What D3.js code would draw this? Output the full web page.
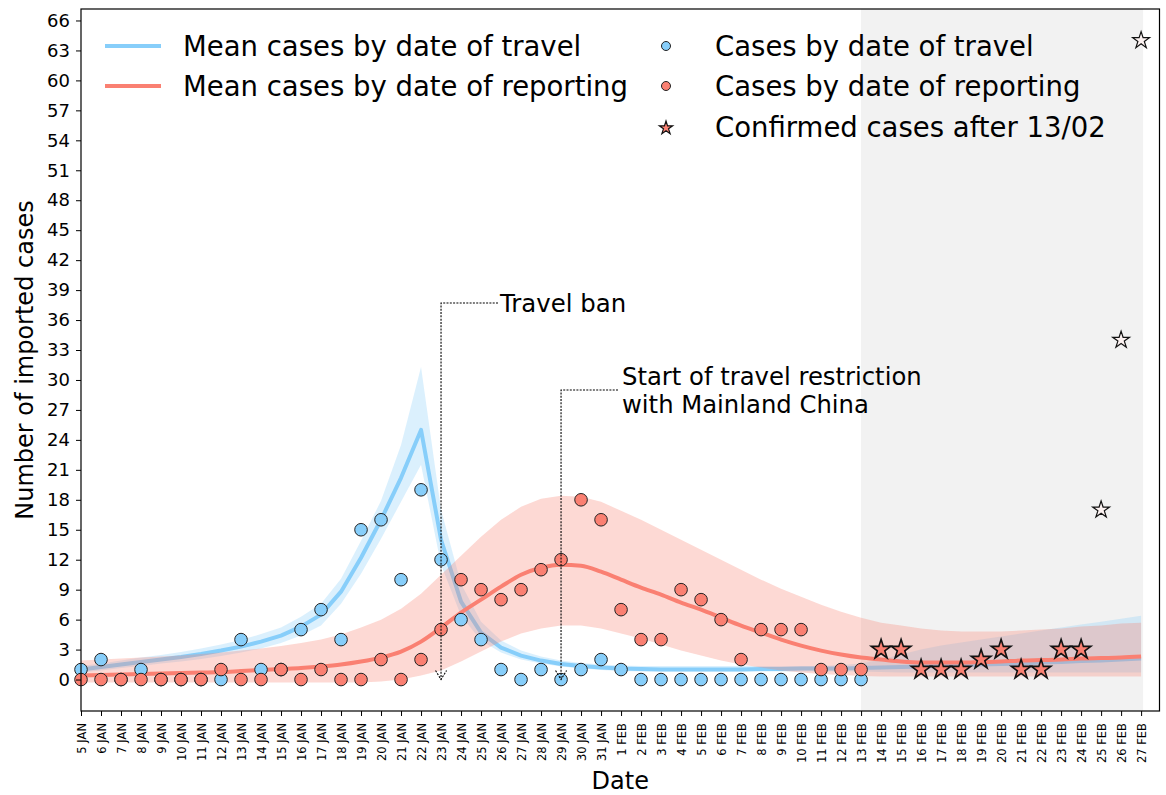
<!DOCTYPE html>
<html><head><meta charset="utf-8">
<script src="https://cdn.jsdelivr.net/npm/d3@7"></script>
<style>
body{margin:0;background:#fff;}
svg{display:block;font-family:"DejaVu Sans",sans-serif;}
</style>
</head><body>
<svg id="chart" width="1166" height="795"></svg>
<script>
// ---------- data ----------
const dayLabels = ["5 JAN","6 JAN","7 JAN","8 JAN","9 JAN","10 JAN","11 JAN","12 JAN","13 JAN","14 JAN",
  "15 JAN","16 JAN","17 JAN","18 JAN","19 JAN","20 JAN","21 JAN","22 JAN","23 JAN","24 JAN",
  "25 JAN","26 JAN","27 JAN","28 JAN","29 JAN","30 JAN","31 JAN",
  "1 FEB","2 FEB","3 FEB","4 FEB","5 FEB","6 FEB","7 FEB","8 FEB","9 FEB","10 FEB",
  "11 FEB","12 FEB","13 FEB","14 FEB","15 FEB","16 FEB","17 FEB","18 FEB","19 FEB","20 FEB",
  "21 FEB","22 FEB","23 FEB","24 FEB","25 FEB","26 FEB","27 FEB"];
const yTicks = [0,3,6,9,12,15,18,21,24,27,30,33,36,39,42,45,48,51,54,57,60,63,66];

// observed cases, 5 JAN .. 13 FEB
const travelCases = [1,2,0,1,0,0,0,0,4,1,1,5,7,4,15,16,10,19,12,6,4,1,0,1,0,1,2,1,0,0,0,0,0,0,0,0,0,0,0,0];
const reportCases = [0,0,0,0,0,0,0,1,0,0,1,0,1,0,0,2,0,2,5,10,9,8,9,11,12,18,16,7,4,4,9,8,6,2,5,5,5,1,1,1];
// confirmed cases after 13/02
const confirmedCases = [3,3,1,1,1,2,3,1,1,3,3];   // 14 FEB .. 24 FEB
const lateConfirmedCases = [17,34,64];            // 25 FEB .. 27 FEB

// model means and intervals, 5 JAN .. 27 FEB
const travelMean = [1.0,1.25,1.5,1.75,2.0,2.25,2.55,2.9,3.3,3.8,4.4,5.3,6.5,8.8,12.2,16.0,20.2,25.0,
  14.0,7.8,4.7,3.2,2.4,1.9,1.55,1.35,1.2,1.1,1.05,1.0,1.0,1.0,1.0,1.0,1.05,1.05,1.1,1.1,1.1,1.15,
  1.2,1.25,1.3,1.35,1.4,1.5,1.55,1.6,1.7,1.75,1.85,1.9,2.0,2.1];
const travelLow = [0.7,0.9,1.15,1.35,1.6,1.8,2.05,2.35,2.7,3.1,3.65,4.4,5.4,7.6,10.6,14.1,17.8,21.5,
  11.5,6.4,3.9,2.7,2.0,1.6,1.3,1.1,0.95,0.85,0.8,0.8,0.8,0.8,0.8,0.8,0.8,0.8,0.8,0.8,0.8,0.8,
  0.75,0.7,0.7,0.7,0.7,0.7,0.7,0.7,0.7,0.7,0.7,0.7,0.7,0.7];
const travelHigh = [1.35,1.6,1.9,2.2,2.45,2.75,3.1,3.5,3.95,4.55,5.2,6.3,7.6,10.1,13.9,17.9,23.5,31.3,
  17.0,9.6,5.8,3.9,2.9,2.3,1.9,1.65,1.5,1.4,1.35,1.35,1.35,1.35,1.35,1.35,1.35,1.35,1.35,1.35,1.45,1.6,
  2.0,2.5,3.0,3.4,3.7,4.0,4.3,4.6,4.9,5.2,5.5,5.8,6.1,6.4];
const reportMean = [0.4,0.45,0.5,0.55,0.6,0.65,0.7,0.75,0.85,0.95,1.05,1.15,1.3,
  1.5,1.8,2.2,2.8,3.8,5.2,6.7,8.0,9.3,10.5,11.2,11.5,11.4,
  10.8,10.0,9.2,8.5,7.7,7.0,6.2,5.4,4.7,4.0,3.4,2.9,2.5,2.2,
  2.0,1.8,1.7,1.7,1.7,1.75,1.8,1.9,1.95,2.0,2.1,2.15,2.2,2.3];
const reportLow = [-0.3,-0.3,-0.3,-0.3,-0.3,-0.3,-0.3,-0.3,-0.3,-0.3,-0.3,-0.3,-0.3,-0.3,-0.3,
  -0.2,0.0,0.4,0.9,1.8,2.8,3.8,4.6,5.1,5.4,5.4,5.1,4.6,4.1,3.5,2.9,2.4,1.9,1.5,1.2,0.9,0.7,0.55,0.45,0.35,
  0.3,0.3,0.3,0.3,0.3,0.3,0.3,0.3,0.3,0.3,0.3,0.3,0.3,0.3];
const reportHigh = [1.9,2.0,2.1,2.2,2.3,2.4,2.55,2.7,2.9,3.1,3.35,3.65,4.0,4.5,5.2,6.0,7.1,8.6,
  10.5,12.4,14.3,16.0,17.3,18.1,18.4,18.3,17.8,16.9,16.0,15.0,14.0,13.0,12.0,11.0,10.0,9.1,8.3,7.5,6.8,6.2,
  5.7,5.4,5.1,4.9,4.8,4.8,4.8,4.9,5.0,5.1,5.3,5.4,5.6,5.7];

const COL_BLUE = "#87cefa", COL_RED = "#fa8072";

// ---------- layout ----------
const svg = d3.select("#chart");
const L = 81, R = 1159.5, T = 9, B = 711;
const x = d3.scaleLinear().domain([0, 53.92]).range([L, R]);
const y = d3.scaleLinear().domain([-3.15, 67.15]).range([B, T]);

const plot = svg.append("g");
plot.append("clipPath").attr("id","clip").append("rect")
  .attr("x",L).attr("y",T).attr("width",R-L).attr("height",B-T);
const g = plot.append("g").attr("clip-path","url(#clip)");

// shaded period after 13 FEB
g.append("rect").attr("x", x(39)).attr("y", T).attr("width", x(53.1)-x(39)).attr("height", B-T)
  .attr("fill","#f2f2f2");

const idx = d3.range(dayLabels.length);
const area = (lo, hi) => d3.area().x(i => x(i)).y0(i => y(lo[i])).y1(i => y(hi[i]));
const line = (m) => d3.line().x(i => x(i)).y(i => y(m[i]));

g.append("path").attr("d", area(travelLow, travelHigh)(idx)).attr("fill", COL_BLUE).attr("fill-opacity",0.3);
g.append("path").attr("d", line(travelMean)(idx)).attr("fill","none").attr("stroke", COL_BLUE)
  .attr("stroke-width",4).attr("stroke-linejoin","round");
g.append("path").attr("d", area(reportLow, reportHigh)(idx)).attr("fill", COL_RED).attr("fill-opacity",0.3);
g.append("path").attr("d", line(reportMean).curve(d3.curveMonotoneX)(idx)).attr("fill","none").attr("stroke", COL_RED)
  .attr("stroke-width",4).attr("stroke-linejoin","round");

// points
plot.append("g").selectAll("circle").data(travelCases).join("circle")
  .attr("cx",(d,i)=>x(i)).attr("cy",d=>y(d)).attr("r",6.3)
  .attr("fill",COL_BLUE).attr("stroke","#222").attr("stroke-width",1);
plot.append("g").selectAll("circle").data(reportCases).join("circle")
  .attr("cx",(d,i)=>x(i)).attr("cy",d=>y(d)).attr("r",6.3)
  .attr("fill",COL_RED).attr("stroke","#222").attr("stroke-width",1);

const starBig = d3.symbol(d3.symbolStar, 118)();
const starSmall = d3.symbol(d3.symbolStar, 88)();
plot.append("g").selectAll("path").data(confirmedCases).join("path")
  .attr("d", starBig).attr("transform",(d,i)=>`translate(${x(40+i)},${y(d)})`)
  .attr("fill",COL_RED).attr("stroke","#111").attr("stroke-width",1.6).attr("stroke-linejoin","miter");
plot.append("g").selectAll("path").data(lateConfirmedCases).join("path")
  .attr("d", starSmall).attr("transform",(d,i)=>`translate(${x(51+i)},${y(d)})`)
  .attr("fill","#fdf3f2").attr("stroke","#111").attr("stroke-width",1.2);

// axes
const yAxis = svg.append("g").attr("transform",`translate(${L},0)`)
  .call(d3.axisLeft(y).tickValues(yTicks).tickSize(5).tickPadding(6));
yAxis.select(".domain").remove();
yAxis.selectAll("text").attr("font-size",18).attr("font-family","DejaVu Sans").attr("fill","#000");
yAxis.selectAll("line").attr("stroke","#000");

const xAxis = svg.append("g").attr("transform",`translate(0,${B})`)
  .call(d3.axisBottom(x).tickValues(idx).tickFormat(i => dayLabels[i]).tickSize(5));
xAxis.select(".domain").remove();
xAxis.selectAll("line").attr("stroke","#000");
xAxis.selectAll("text").attr("font-size",11.5).attr("font-family","DejaVu Sans").attr("fill","#000")
  .attr("transform","rotate(-90)").attr("text-anchor","end")
  .attr("x",-12).attr("y",0).attr("dy","0.35em");

// frame
svg.append("rect").attr("x",L).attr("y",T).attr("width",R-L).attr("height",B-T)
  .attr("fill","none").attr("stroke","#000").attr("stroke-width",1.2);

// axis titles
svg.append("text").attr("x",(L+R)/2).attr("y",789).attr("text-anchor","middle")
  .attr("font-size",24).text("Date");
svg.append("text").attr("transform",`translate(33,${(T+B)/2}) rotate(-90)`).attr("text-anchor","middle")
  .attr("font-size",24).text("Number of imported cases");

// annotations
const ann = svg.append("g").attr("fill","none").attr("stroke","#000").attr("stroke-width",1.1)
  .attr("stroke-dasharray","2,1.3");
function arrow(dayIdx, yElbow, xText){
  const ax = x(dayIdx), tip = y(0);
  ann.append("path").attr("d",`M${xText},${yElbow}H${ax}V${tip}`);
  ann.append("path").attr("d",`M${ax-5.5},${tip-9}L${ax},${tip}L${ax+5.5},${tip-9}`);
}
arrow(18, 303, 498);
arrow(24, 390, 618);
svg.append("text").attr("x",500).attr("y",303).attr("dy","0.35em").attr("font-size",24.4).text("Travel ban");
svg.append("text").attr("x",622).attr("y",376).attr("dy","0.35em").attr("font-size",24.3).text("Start of travel restriction");
svg.append("text").attr("x",622).attr("y",404).attr("dy","0.35em").attr("font-size",24.3).text("with Mainland China");

// legend
const lg = svg.append("g").attr("font-size",27.5);
const rows = [46, 86, 127];
lg.append("line").attr("x1",105).attr("x2",161).attr("y1",rows[0]).attr("y2",rows[0]).attr("stroke",COL_BLUE).attr("stroke-width",4);
lg.append("line").attr("x1",105).attr("x2",161).attr("y1",rows[1]).attr("y2",rows[1]).attr("stroke",COL_RED).attr("stroke-width",4);
lg.append("text").attr("x",183).attr("y",rows[0]).attr("dy","0.35em").text("Mean cases by date of travel");
lg.append("text").attr("x",183).attr("y",rows[1]).attr("dy","0.35em").text("Mean cases by date of reporting");
lg.append("circle").attr("cx",666).attr("cy",rows[0]).attr("r",4.5).attr("fill",COL_BLUE).attr("stroke","#222").attr("stroke-width",1);
lg.append("circle").attr("cx",666).attr("cy",rows[1]).attr("r",4.5).attr("fill",COL_RED).attr("stroke","#222").attr("stroke-width",1);
lg.append("path").attr("d",d3.symbol(d3.symbolStar,55)()).attr("transform",`translate(666,${rows[2]+1})`)
  .attr("fill",COL_RED).attr("stroke","#111").attr("stroke-width",1.2);
lg.append("text").attr("x",715).attr("y",rows[0]).attr("dy","0.35em").text("Cases by date of travel");
lg.append("text").attr("x",715).attr("y",rows[1]).attr("dy","0.35em").text("Cases by date of reporting");
lg.append("text").attr("x",715).attr("y",rows[2]).attr("dy","0.35em").text("Confirmed cases after 13/02");
</script>
</body></html>
